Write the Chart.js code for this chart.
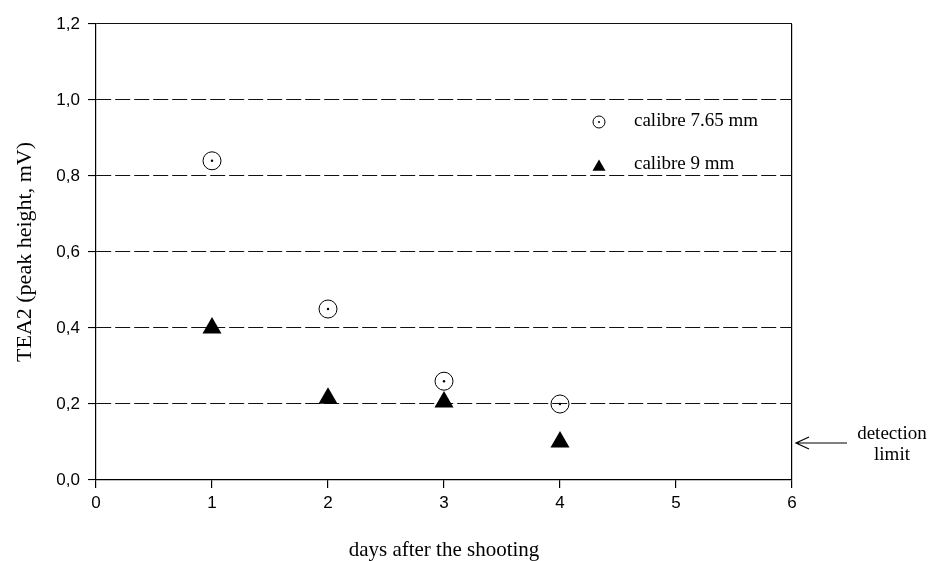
<!DOCTYPE html>
<html>
<head>
<meta charset="utf-8">
<script src="https://cdn.jsdelivr.net/npm/chart.js@4/dist/chart.umd.min.js"></script>
<style>
  html, body { margin: 0; padding: 0; background: #fff; }
  #wrap { width: 929px; height: 561px; position: relative; }
</style>
</head>
<body>
<div id="wrap"><canvas id="tea2Chart"></canvas></div>
<script>
// Data
const days = [1, 2, 3, 4];
const calibre765 = [0.84, 0.45, 0.26, 0.20];
const calibre9 = [0.40, 0.215, 0.205, 0.10];
const legendLabels = ['calibre 7.65 mm', 'calibre 9 mm'];
const noteLines = ['detection', 'limit'];

const toPoints = (ys) => days.map((d, i) => ({ x: d, y: ys[i] }));

const serif = 'Liberation Serif';
const sans = 'Liberation Sans';

// legend inside the plot + the "detection limit" note on the right
const extras = {
    id: 'extras',
    afterDraw(chart) {
        const c = chart.ctx;
        c.save();
        c.fillStyle = '#000';
        c.strokeStyle = '#000';

        // legend symbols
        c.lineWidth = 1;
        c.beginPath();
        c.arc(599, 122, 6, 0, Math.PI * 2);
        c.stroke();
        c.beginPath();
        c.arc(599, 122, 1, 0, Math.PI * 2);
        c.fill();

        const r = 7.5;
        const ty = 167;
        c.beginPath();
        c.moveTo(599, ty - r);
        c.lineTo(599 + r * Math.sqrt(3) / 2, ty + r / 2);
        c.lineTo(599 - r * Math.sqrt(3) / 2, ty + r / 2);
        c.closePath();
        c.fill();

        c.font = '19px "' + serif + '"';
        c.textBaseline = 'middle';
        c.textAlign = 'left';
        c.fillText(legendLabels[0], 634, 121);
        c.fillText(legendLabels[1], 634, 164);

        // arrow
        c.lineWidth = 1.2;
        c.beginPath();
        c.moveTo(796, 443);
        c.lineTo(847, 443);
        c.moveTo(809, 437);
        c.lineTo(796, 443);
        c.lineTo(809, 449);
        c.stroke();

        c.textAlign = 'center';
        c.fillText(noteLines[0], 892, 434);
        c.fillText(noteLines[1], 892, 455);
        c.restore();
    }
};

new Chart(document.getElementById('tea2Chart'), {
    type: 'scatter',
    data: {
        datasets: [
            {
                label: legendLabels[0],
                data: toPoints(calibre765),
                pointStyle: 'circle',
                pointRadius: 9,
                borderColor: '#000',
                borderWidth: 1,
                backgroundColor: 'rgba(0,0,0,0)'
            },
            {
                label: 'centre dot',
                data: toPoints(calibre765),
                pointStyle: 'circle',
                pointRadius: 1.2,
                borderWidth: 0,
                backgroundColor: '#000'
            },
            {
                label: legendLabels[1],
                data: toPoints(calibre9),
                pointStyle: 'triangle',
                pointRadius: 11,
                borderWidth: 0,
                borderColor: '#000',
                backgroundColor: '#000'
            }
        ]
    },
    options: {
        responsive: true,
        maintainAspectRatio: false,
        animation: false,
        layout: { padding: { left: 0, right: 137, top: 24, bottom: 0 } },
        plugins: {
            legend: { display: false },
            tooltip: { enabled: false }
        },
        scales: {
            x: {
                type: 'linear',
                min: 0,
                max: 6,
                afterFit: (s) => { s.height = 81; },
                ticks: {
                    stepSize: 1,
                    color: '#000',
                    padding: 5,
                    font: { family: sans, size: 17 }
                },
                grid: {
                    color: (c) => (c.tick && c.tick.value === 6) ? '#000' : 'rgba(0,0,0,0)',
                    tickColor: '#000',
                    tickLength: 8,
                    lineWidth: 1.2
                },
                border: { color: '#000', width: 1.2 },
                title: {
                    display: true,
                    text: 'days after the shooting',
                    color: '#000',
                    font: { family: serif, size: 21, lineHeight: 1 },
                    padding: { top: 0, bottom: 0 }
                }
            },
            y: {
                min: 0,
                max: 1.2,
                afterFit: (s) => { s.width = 96; },
                ticks: {
                    stepSize: 0.2,
                    color: '#000',
                    padding: 8,
                    font: { family: sans, size: 17 },
                    callback: (v) => v.toFixed(1).replace('.', ',')
                },
                grid: {
                    color: '#111',
                    tickColor: '#000',
                    tickLength: 8,
                    lineWidth: 1.1
                },
                border: {
                    color: '#000',
                    width: 1.2,
                    dash: (c) => (c.tick && c.tick.value > 0.01 && c.tick.value < 1.19) ? [15, 4] : []
                },
                title: {
                    display: true,
                    text: 'TEA2 (peak height, mV)',
                    color: '#000',
                    font: { family: serif, size: 22, lineHeight: 1.2 },
                    padding: { top: 12, bottom: 0 }
                }
            }
        }
    },
    plugins: [extras]
});
</script>
</body>
</html>
